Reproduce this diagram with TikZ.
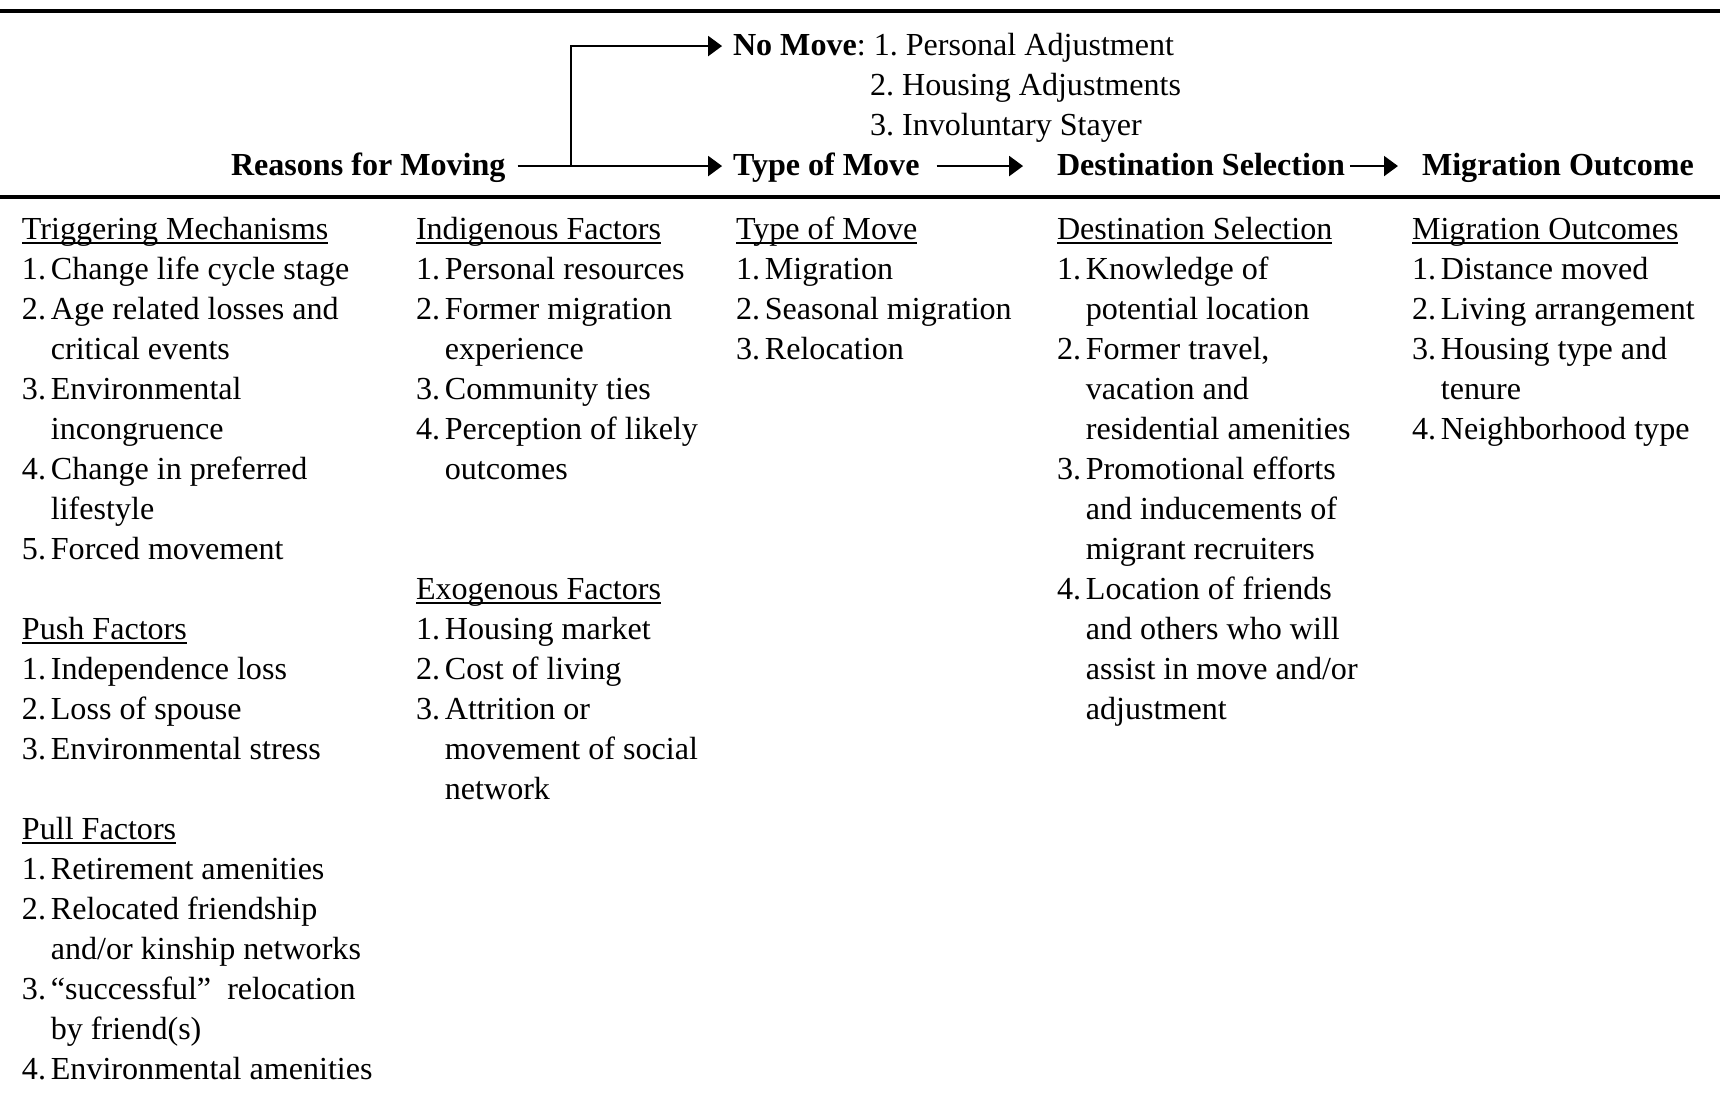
\documentclass[tikz,border=0pt]{standalone}
\usepackage{fontspec}
\setmainfont{Liberation Serif}
\usetikzlibrary{arrows.meta}

\newcommand{\ulhead}[1]{\setbox0\hbox{#1}\rlap{\rule[-1.75pt]{\wd0}{0.5pt}}\box0}
\newcommand{\itemgroup}[2]{\begin{tabular}[t]{@{}p{10.8pt}@{}l@{}}\multicolumn{2}{@{}l@{}}{\ulhead{#1}}\\#2\end{tabular}}

\begin{document}
\frenchspacing
\begin{tikzpicture}[x=0.374pt,y=-0.374pt,
    font=\fontsize{12}{14.96}\selectfont\frenchspacing,
    >={Triangle[length=5.2pt,width=7.5pt]},
    stage/.style={anchor=base west,inner sep=0pt,outer sep=0pt,font=\fontsize{12}{14.96}\selectfont\bfseries,text height=9pt,text depth=2.3pt},
    stayer/.style={anchor=base west,inner sep=0pt,outer sep=0pt,text height=9pt,text depth=2.3pt},
    factors/.style={anchor=base west,inner sep=0pt,outer sep=0pt},
    thickrule/.style={line width=1.4pt},
    link/.style={line width=0.65pt}]
    \useasboundingbox (0,0) rectangle (1720,1098);
    \draw[thickrule] (0,11) -- (1720,11);
    \draw[thickrule,line width=1.2pt] (0,197) -- (1720,197);

    \node[stage] (rm) at (231,175) {Reasons for Moving};
    \node[stage] (tm) at (733,175) {Type of Move};
    \node[stage] (dm) at (1057,175) {Destination Selection};
    \node[stage] (om) at (1422,175) {Migration Outcome};
    \node[stayer] (nm) at (733,55) {\textbf{No Move}: 1. Personal Adjustment};
    \node[stayer] (nm2) at (870,95) {2. Housing Adjustments};
    \node[stayer] (nm3) at (870,135) {3. Involuntary Stayer};
    \coordinate (fork) at (571,166);
    \path[->,link]
      (rm) edge[shorten <=4.5pt,shorten >=4.1pt] (tm)
      (tm) edge[shorten <=6.4pt,shorten >=12.7pt] (dm)
      (dm) edge[shorten <=1.9pt,shorten >=9pt] (om);
    \draw[->,link,shorten >=4.1pt] (fork) |- (nm.west);

    \node[factors] (trig) at (22,239) {\itemgroup{Triggering Mechanisms}{%
      1.&Change life cycle stage\\
      2.&Age related losses and\\
      &critical events\\
      3.&Environmental\\
      &incongruence\\
      4.&Change in preferred\\
      &lifestyle\\
      5.&Forced movement}};
    \node[factors] (push) at (22,639) {\itemgroup{Push Factors}{%
      1.&Independence loss\\
      2.&Loss of spouse\\
      3.&Environmental stress}};
    \node[factors] (pull) at (22,839) {\itemgroup{Pull Factors}{%
      1.&Retirement amenities\\
      2.&Relocated friendship\\
      &and/or kinship networks\\
      3.&``successful''~ relocation\\
      &by friend(s)\\
      4.&Environmental amenities}};
    \node[factors] (indig) at (416,239) {\itemgroup{Indigenous Factors}{%
      1.&Personal resources\\
      2.&Former migration\\
      &experience\\
      3.&Community ties\\
      4.&Perception of likely\\
      &outcomes}};
    \node[factors] (exog) at (416,599) {\itemgroup{Exogenous Factors}{%
      1.&Housing market\\
      2.&Cost of living\\
      3.&Attrition or\\
      &movement of social\\
      &network}};
    \node[factors] (typ) at (736,239) {\itemgroup{Type of Move}{%
      1.&Migration\\
      2.&Seasonal migration\\
      3.&Relocation}};
    \node[factors] (dest) at (1057,239) {\itemgroup{Destination Selection}{%
      1.&Knowledge of\\
      &potential location\\
      2.&Former travel,\\
      &vacation and\\
      &residential amenities\\
      3.&Promotional efforts\\
      &and inducements of\\
      &migrant recruiters\\
      4.&Location of friends\\
      &and others who will\\
      &assist in move and/or\\
      &adjustment}};
    \node[factors] (outc) at (1412,239) {\itemgroup{Migration Outcomes}{%
      1.&Distance moved\\
      2.&Living arrangement\\
      3.&Housing type and\\
      &tenure\\
      4.&Neighborhood type}};
\end{tikzpicture}
\end{document}
